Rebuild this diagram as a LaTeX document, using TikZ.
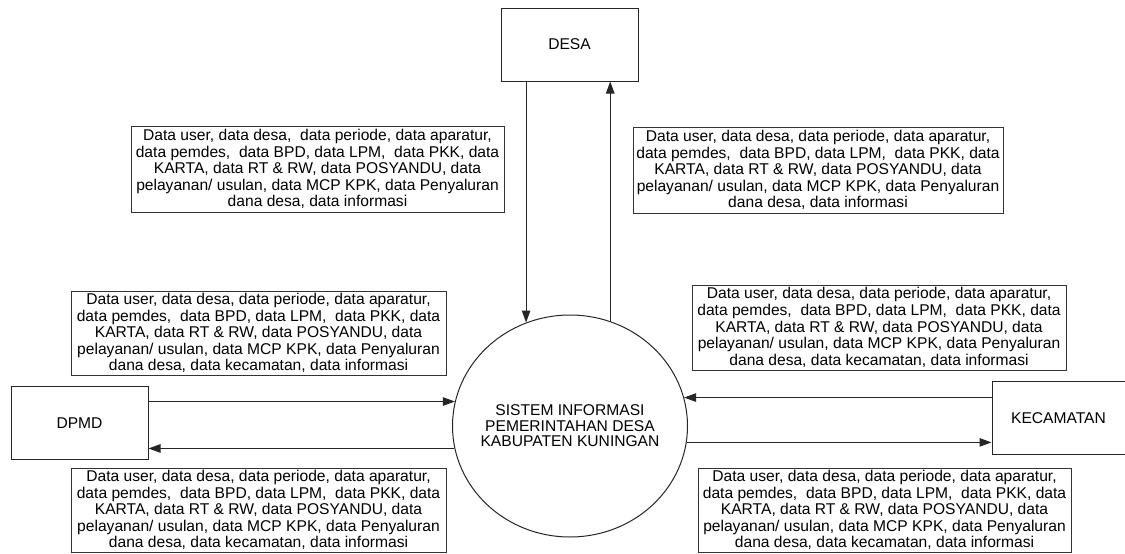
\documentclass[tikz,border=0pt]{standalone}
\usepackage{fontspec}
\setmainfont{Liberation Sans}
\usetikzlibrary{arrows.meta,shapes.geometric}
\begin{document}
\begin{tikzpicture}[x=1pt,y=-1pt,
  every node/.style={font=\fontsize{15.6}{16.6}\selectfont},
  entity/.style={draw=black!85, line width=1pt, inner sep=0pt, minimum width=137, minimum height=73},
  flowlabel/.style={draw=black!80, line width=1pt, inner sep=0pt, align=center},
  process/.style={ellipse, draw=black!85, line width=1pt, minimum width=235, minimum height=222, inner xsep=-8pt, inner ysep=0pt, align=center},
  flow/.style={line width=1pt, draw=black!85, -{Triangle[length=12pt,width=8.5pt]}}]
\useasboundingbox (0,0) rectangle (1125,554);

% external entities
\node[entity] (desa) at (569.5,44.5) {DESA};
\node[entity] (dpmd) at (79.5,423) {DPMD};
\node[entity, minimum width=133] (kec) at (1058.5,418) {KECAMATAN};

% the system process
\node[process] (sis) at (570,426) {SISTEM INFORMASI\\[-1pt]PEMERINTAHAN DESA\\[-1pt]KABUPATEN KUNINGAN};

% data flow labels
\node[flowlabel, minimum width=373, minimum height=86] (lblDesaIn) at (317.5,169)
  {Data user, data desa,\ \ data periode, data aparatur,\\
   data pemdes,\ \ data BPD, data LPM,\ \ data PKK, data\\
   KARTA, data RT \& RW, data POSYANDU, data\\
   pelayanan/ usulan, data MCP KPK, data Penyaluran\\
   dana desa, data informasi};
\node[flowlabel, minimum width=370, minimum height=86] (lblDesaOut) at (818,170)
  {Data user, data desa, data periode, data aparatur,\\
   data pemdes,\ \ data BPD, data LPM,\ \ data PKK, data\\
   KARTA, data RT \& RW, data POSYANDU, data\\
   pelayanan/ usulan, data MCP KPK, data Penyaluran\\
   dana desa, data informasi};
\node[flowlabel, minimum width=375, minimum height=84] (lblDpmdIn) at (258.5,333)
  {Data user, data desa, data periode, data aparatur,\\
   data pemdes,\ \ data BPD, data LPM,\ \ data PKK, data\\
   KARTA, data RT \& RW, data POSYANDU, data\\
   pelayanan/ usulan, data MCP KPK, data Penyaluran\\
   dana desa, data kecamatan, data informasi};
\node[flowlabel, minimum width=374, minimum height=85] (lblKecIn) at (879,327.5)
  {Data user, data desa, data periode, data aparatur,\\
   data pemdes,\ \ data BPD, data LPM,\ \ data PKK, data\\
   KARTA, data RT \& RW, data POSYANDU, data\\
   pelayanan/ usulan, data MCP KPK, data Penyaluran\\
   dana desa, data kecamatan, data informasi};
\node[flowlabel, minimum width=375, minimum height=84] (lblDpmdOut) at (258.5,510)
  {Data user, data desa, data periode, data aparatur,\\
   data pemdes,\ \ data BPD, data LPM,\ \ data PKK, data\\
   KARTA, data RT \& RW, data POSYANDU, data\\
   pelayanan/ usulan, data MCP KPK, data Penyaluran\\
   dana desa, data kecamatan, data informasi};
\node[flowlabel, minimum width=373, minimum height=84] (lblKecOut) at (884.5,510)
  {Data user, data desa, data periode, data aparatur,\\
   data pemdes,\ \ data BPD, data LPM,\ \ data PKK, data\\
   KARTA, data RT \& RW, data POSYANDU, data\\
   pelayanan/ usulan, data MCP KPK, data Penyaluran\\
   dana desa, data kecamatan, data informasi};

% data flows
\draw[flow] (sis.113 |- desa.south) -- (sis.113);
\draw[flow] (sis.69) -- (sis.69 |- desa.south);
\draw[flow] (dpmd.east |- sis.168.6) -- (sis.168.6);
\draw[flow] (sis.191) -- (dpmd.east |- sis.191);
\draw[flow] (kec.west |- sis.14.4) -- (sis.14.4);
\draw[flow] (sis.-8.7) -- (kec.west |- sis.-8.7);
\end{tikzpicture}
\end{document}
